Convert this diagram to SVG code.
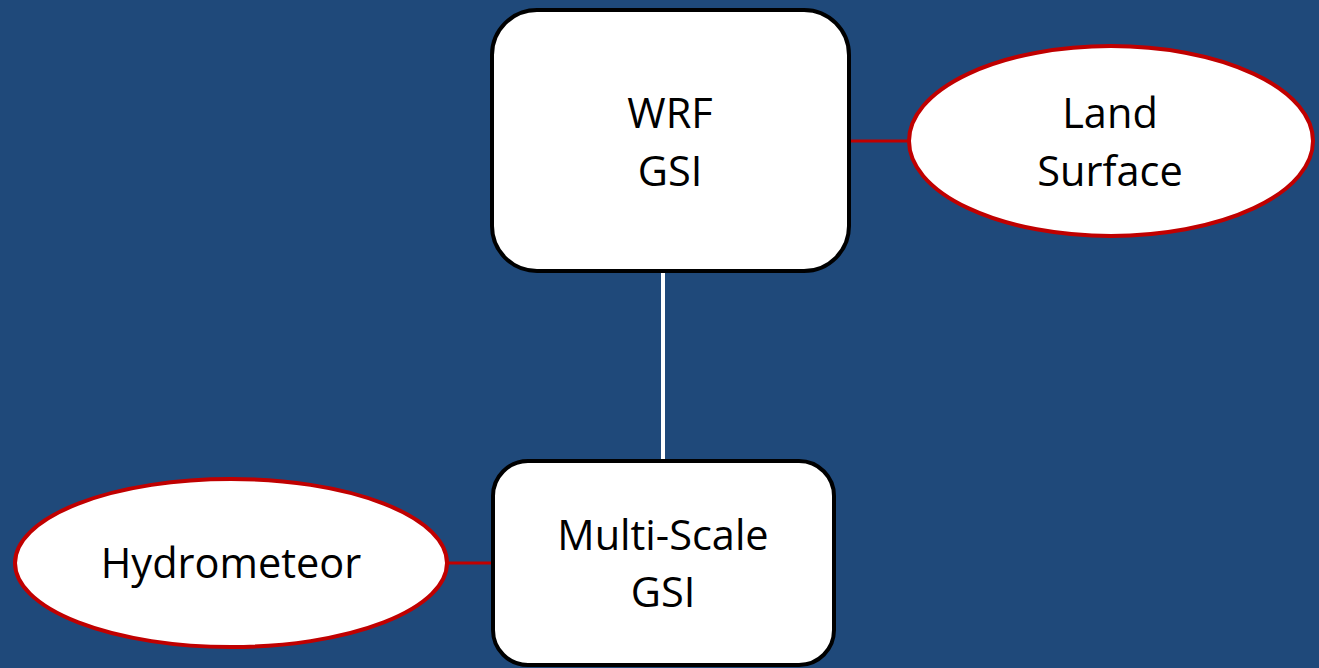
<svg xmlns="http://www.w3.org/2000/svg" width="1319" height="668" viewBox="0 0 1319 668">
<style>
.box{fill:#fff;stroke:#000;stroke-width:4}
.ell{fill:#fff;stroke:#c00000;stroke-width:4}
.t{font-family:"Open Sans","Liberation Sans",sans-serif;font-size:41.5px;fill:#000;text-anchor:middle}
</style>
<rect width="1319" height="668" fill="#1f497a"/>
<g id="connectors">
<line x1="663" y1="272" x2="663" y2="461" stroke="#fff" stroke-width="4"/>
<line x1="850" y1="141" x2="909" y2="141" stroke="#c00000" stroke-width="3"/>
<line x1="447" y1="563" x2="493" y2="563" stroke="#c00000" stroke-width="3"/>
</g>
<g id="wrf">
<rect class="box" x="492" y="10" width="357" height="261" rx="45"/>
<text class="t" x="670" y="128">WRF</text>
<text class="t" x="670" y="186">GSI</text>
</g>
<g id="land">
<ellipse class="ell" cx="1111" cy="141" rx="202" ry="95"/>
<text class="t" x="1110" y="128">Land</text>
<text class="t" x="1110" y="186">Surface</text>
</g>
<g id="msgsi">
<rect class="box" x="493" y="461" width="341" height="204" rx="35"/>
<text class="t" x="663" y="550">Multi-Scale</text>
<text class="t" x="663" y="607">GSI</text>
</g>
<g id="hydro">
<ellipse class="ell" cx="231" cy="563" rx="216" ry="84"/>
<text class="t" x="231" y="578">Hydrometeor</text>
</g>
</svg>
